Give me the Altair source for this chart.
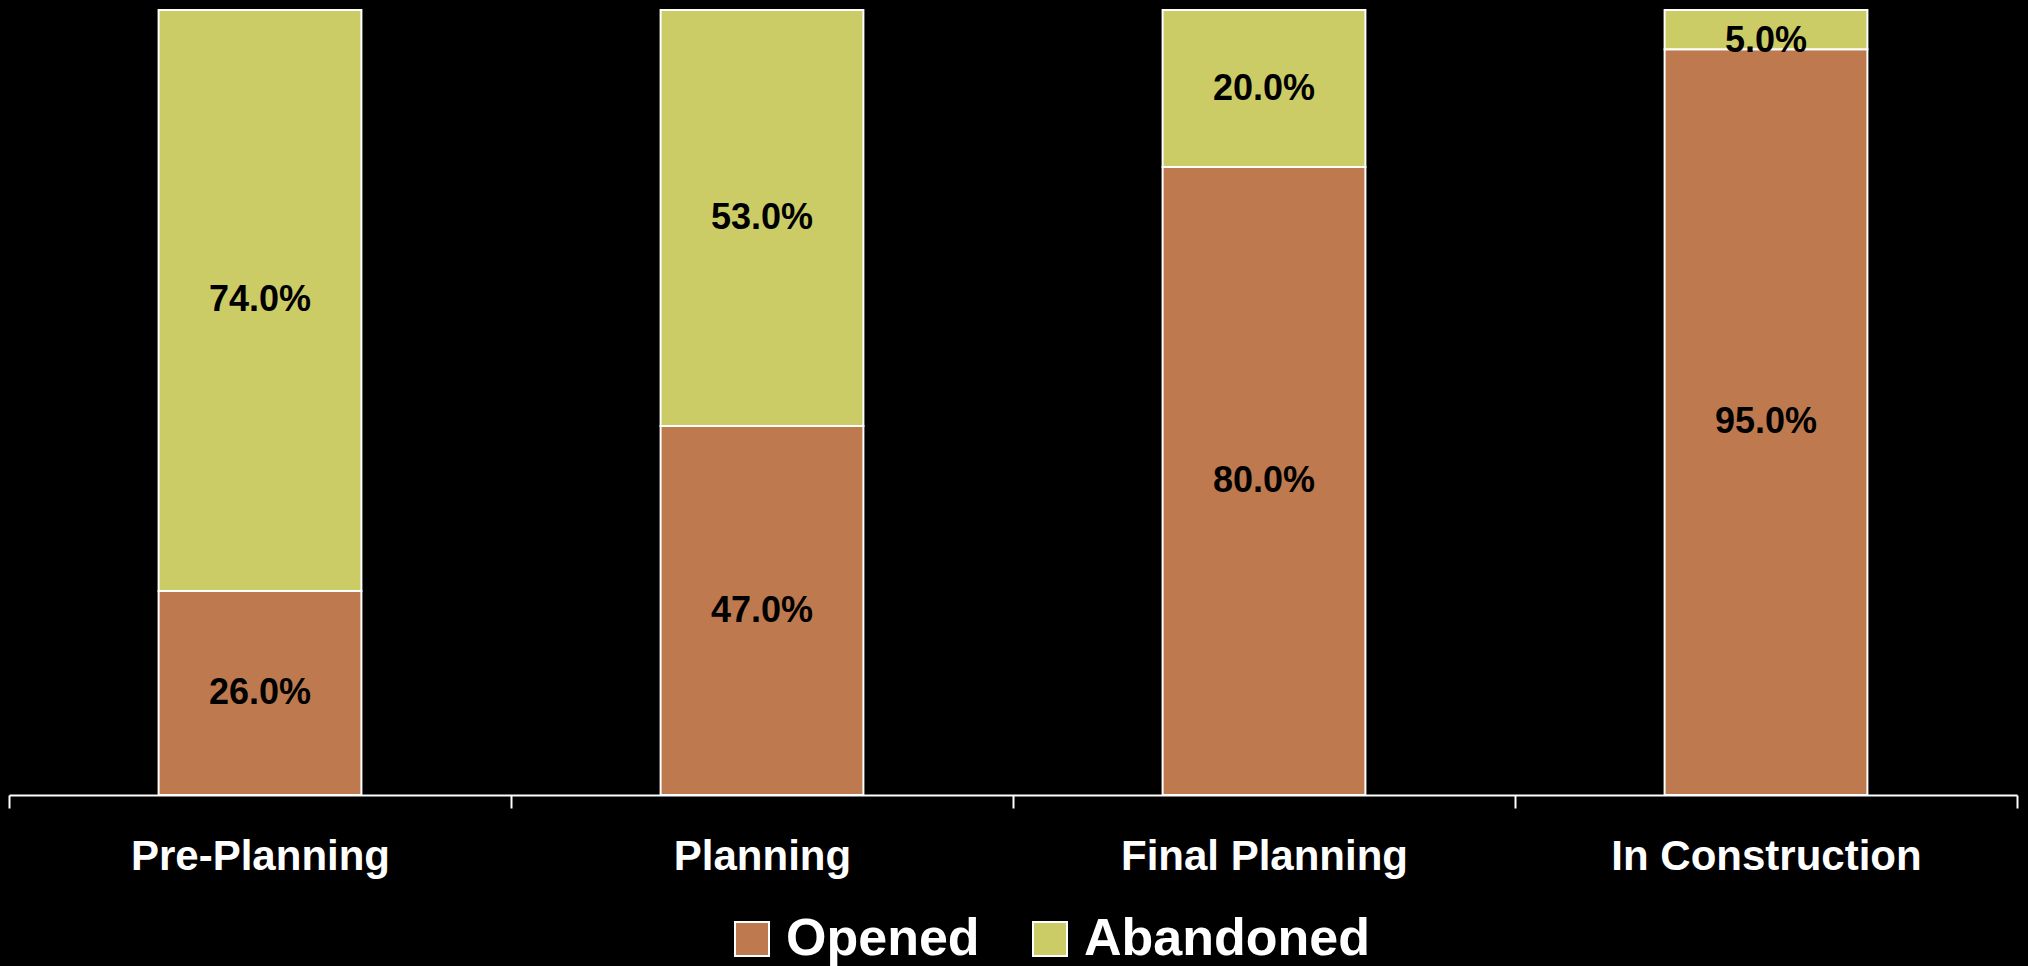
import altair as alt
import pandas as pd

categories = ["Pre-Planning", "Planning", "Final Planning", "In Construction"]
opened = [26.0, 47.0, 80.0, 95.0]
abandoned = [74.0, 53.0, 20.0, 5.0]
series = ["Opened", "Abandoned"]
colors = ["#BE7A4E", "#CCCC66"]

rows = []
for i, c in enumerate(categories):
    for k, (s, vals) in enumerate(zip(series, [opened, abandoned])):
        rows.append({"category": c, "series": s, "value": vals[i] / 100, "order": k})
df = pd.DataFrame(rows)

FONT = "Liberation Sans"

x = alt.X(
    "category:N",
    sort=categories,
    scale=alt.Scale(paddingInner=0, paddingOuter=0),
    axis=alt.Axis(
        title=None, labelAngle=0, labelFont=FONT, labelFontSize=42,
        labelFontWeight="bold", labelColor="white", labelPadding=28, labelLimit=0,
        domainColor="white", domainWidth=2, tickColor="white", tickWidth=2,
        tickSize=13, tickBand="extent", grid=False,
    ),
)

color = alt.Color(
    "series:N",
    scale=alt.Scale(domain=series, range=colors),
    legend=alt.Legend(
        title=None, orient="none", legendX=717, legendY=903, direction="horizontal",
        symbolType="square", symbolSize=1156, symbolStrokeColor="white",
        symbolStrokeWidth=2, symbolOpacity=1, labelFont=FONT, labelFontSize=52,
        labelFontWeight="bold", labelColor="white", labelOffset=8,
        columnPadding=44, padding=0, labelLimit=0,
    ),
)

bars = alt.Chart(df).mark_bar(
    width=alt.RelativeBandSize(0.404), stroke="white", strokeWidth=2, opacity=1
).encode(
    x=x,
    y=alt.Y("value:Q", stack="zero", scale=alt.Scale(domain=[0, 1]), axis=None),
    color=color,
    order=alt.Order("order:Q"),
)

labels = alt.Chart(df).transform_stack(
    stack="value", groupby=["category"], as_=["y0", "y1"],
    sort=[alt.SortField("order", order="ascending")],
).transform_calculate(
    mid="min((datum.y0 + datum.y1) / 2, 0.96)"
).mark_text(
    font=FONT, fontSize=36, fontWeight="bold", color="black", baseline="middle"
).encode(
    x=alt.X("category:N", sort=categories),
    y=alt.Y("mid:Q"),
    text=alt.Text("value:Q", format=".1%"),
)

chart = alt.layer(bars, labels).properties(
    width=2008, height=785,
    padding={"left": 9, "top": 10, "right": 11, "bottom": 171},
    autosize="none", background="black",
).configure_view(stroke=None)

chart.save("out.html", embed_options={"renderer": "svg", "actions": False})
